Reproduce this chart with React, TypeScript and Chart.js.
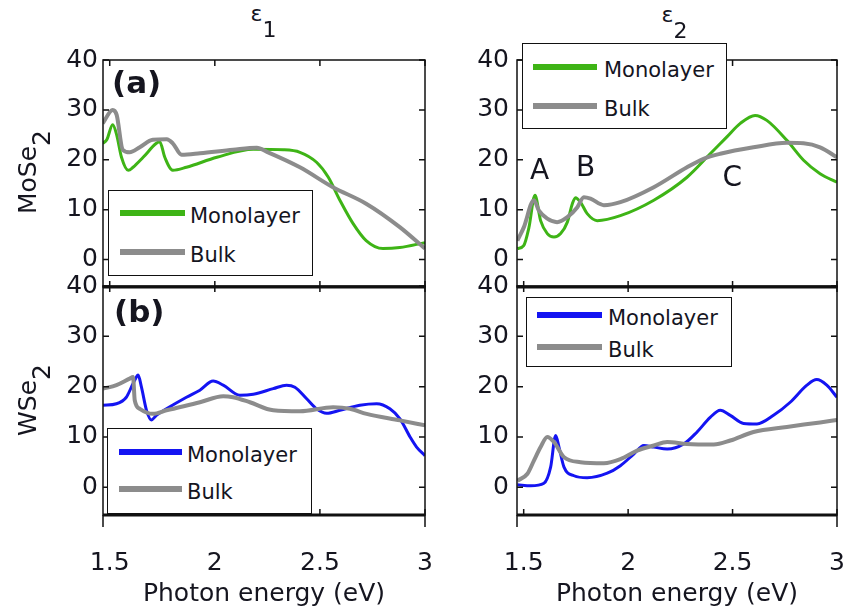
import React, { useEffect, useRef } from "react";
import { Chart, registerables } from "chart.js";

Chart.register(...registerables);

const FONT = '"DejaVu Sans", "Liberation Sans", sans-serif';
const INK = "#15151f";
const GREEN = "#3eb416";
const BLUE = "#1414f2";
const GRAY = "#8c8c8c";

// Shared axes
const xTicks = [1.5, 2, 2.5, 3];
const yTicks = [0, 10, 20, 30, 40];
const xMin = 1.468;
const xMax = 3.0;
const yMin = -5.5;
const yMax = 40;

// MoSe2, epsilon_1
const moEps1MonoE = [1.467, 1.486, 1.514, 1.533, 1.556, 1.588, 1.611, 1.659, 1.722, 1.738, 1.762, 1.8, 1.865, 2.01, 2.183, 2.325, 2.405, 2.484, 2.54, 2.595, 2.658, 2.72, 2.8, 2.88, 3.0];
const moEps1MonoV = [23.3, 24, 27, 25, 20.5, 17.9, 18.5, 20.5, 23.3, 23.6, 20.5, 17.9, 18.5, 20.5, 22.1, 22, 21.5, 19.5, 16.5, 11.9, 7.2, 3.8, 2.2, 2.4, 3.4];
const moEps1BulkE = [1.467, 1.514, 1.533, 1.562, 1.595, 1.643, 1.705, 1.771, 1.8, 1.842, 1.93, 2.087, 2.2, 2.248, 2.405, 2.562, 2.72, 2.88, 3.0];
const moEps1BulkV = [27.3, 30, 29, 22, 21.5, 22.5, 24, 24.1, 23.3, 21, 21.3, 22, 22.4, 21.6, 18.5, 14.5, 11.2, 6.5, 2.2];

// MoSe2, epsilon_2
const moEps2MonoE = [1.47, 1.5, 1.525, 1.554, 1.581, 1.613, 1.645, 1.677, 1.709, 1.733, 1.748, 1.772, 1.804, 1.852, 1.963, 2.123, 2.282, 2.393, 2.473, 2.537, 2.608, 2.664, 2.76, 2.84, 2.919, 3.0];
const moEps2MonoV = [2.2, 2.8, 6.4, 12.9, 7.8, 5.2, 4.5, 5.2, 7.5, 11.2, 12.4, 11.5, 9.2, 7.8, 8.8, 11.9, 16.5, 21.2, 24.6, 27.3, 28.9, 27.9, 23.9, 19.9, 17.2, 15.5];
const moEps2BulkE = [1.47, 1.5, 1.549, 1.573, 1.613, 1.66, 1.709, 1.757, 1.788, 1.82, 1.884, 1.963, 2.123, 2.282, 2.361, 2.441, 2.6, 2.76, 2.84, 2.919, 3.0];
const moEps2BulkV = [3.8, 6.4, 11.9, 9.8, 8.2, 7.5, 8.5, 10.5, 12.5, 12.2, 10.9, 11.5, 14.5, 18.5, 20.2, 21.2, 22.5, 23.4, 23.3, 22.5, 20.5];

// WSe2, epsilon_1
const wEps1MonoE = [1.468, 1.532, 1.579, 1.603, 1.619, 1.635, 1.651, 1.675, 1.698, 1.722, 1.77, 1.865, 1.929, 1.992, 2.04, 2.119, 2.183, 2.278, 2.341, 2.381, 2.437, 2.484, 2.532, 2.595, 2.69, 2.77, 2.833, 2.881, 2.929, 2.96, 3.0];
const wEps1MonoV = [16.3, 16.6, 17.9, 19.9, 21.3, 22.3, 19.9, 15.3, 13.4, 14.3, 15.6, 17.9, 19.3, 21.1, 20.3, 18.3, 18.5, 19.6, 20.3, 19.9, 17.6, 15.6, 14.7, 15.3, 16.3, 16.6, 15.6, 13.6, 10.0, 8.0, 6.3];
const wEps1BulkE = [1.468, 1.532, 1.595, 1.611, 1.619, 1.643, 1.706, 1.77, 1.929, 2.04, 2.087, 2.167, 2.278, 2.405, 2.563, 2.643, 2.722, 2.881, 3.0];
const wEps1BulkV = [19.6, 20.3, 21.6, 21.9, 17.3, 15.6, 14.6, 15.3, 16.9, 18.1, 17.9, 16.9, 15.3, 15.1, 15.9, 15.6, 14.6, 13.3, 12.3];

// WSe2, epsilon_2
const wEps2MonoE = [1.47, 1.534, 1.597, 1.629, 1.653, 1.669, 1.693, 1.741, 1.804, 1.9, 1.963, 2.027, 2.075, 2.123, 2.187, 2.266, 2.33, 2.393, 2.441, 2.489, 2.553, 2.617, 2.696, 2.776, 2.856, 2.903, 2.951, 3.0];
const wEps2MonoV = [0.5, 0.3, 0.8, 4.0, 10.3, 8.0, 4.0, 2.3, 1.9, 2.8, 4.3, 6.6, 8.3, 8.0, 7.6, 8.6, 11.0, 13.9, 15.3, 14.3, 12.7, 12.6, 14.3, 16.9, 20.3, 21.4, 20.3, 17.9];
const wEps2BulkE = [1.47, 1.518, 1.549, 1.581, 1.613, 1.645, 1.693, 1.772, 1.884, 1.963, 2.043, 2.123, 2.187, 2.282, 2.41, 2.489, 2.6, 2.76, 2.919, 3.0];
const wEps2BulkV = [1.3, 2.7, 5.3, 8.0, 10.0, 9.0, 6.0, 5.0, 4.8, 5.6, 7.3, 8.3, 9.0, 8.6, 8.5, 9.3, 11.0, 12.0, 12.9, 13.4];

// Peak markers on the MoSe2 epsilon_2 panel
const peakLabels = ["A", "B", "C"];
const peakE = [1.576, 1.796, 2.499];
const peakV = [17.7, 18.3, 16.3];

type Series = { label: string; color: string; width: number; e: number[]; v: number[] };
type Note = { text: string; x: number; y: number };

const mono = (color: string, e: number[], v: number[]): Series => ({ label: "Monolayer", color, width: 3, e, v });
const bulk = (e: number[], v: number[]): Series => ({ label: "Bulk", color: GRAY, width: 4, e, v });

// Box frame with inward ticks on all four sides, plus text notes in data space
const framePlugin = {
  id: "frame",
  afterDatasetsDraw(chart: any, _args: any, opts: any) {
    const { ctx, chartArea, scales } = chart;
    const { left, right, top, bottom } = chartArea;
    const xs = scales.x;
    const ys = scales.y;
    const tick = 6;
    ctx.save();
    ctx.strokeStyle = "#111";
    ctx.lineWidth = 1.5;
    ctx.strokeRect(left, top, right - left, bottom - top);
    ctx.lineWidth = 3;
    ctx.beginPath();
    ctx.moveTo(left, bottom);
    ctx.lineTo(right, bottom);
    ctx.stroke();
    ctx.lineWidth = 1.5;
    ctx.beginPath();
    for (const v of xTicks) {
      const px = xs.getPixelForValue(v);
      ctx.moveTo(px, bottom);
      ctx.lineTo(px, bottom - tick);
      ctx.moveTo(px, top);
      ctx.lineTo(px, top + tick);
    }
    for (const v of yTicks) {
      const py = ys.getPixelForValue(v);
      ctx.moveTo(left, py);
      ctx.lineTo(left + tick, py);
      ctx.moveTo(right, py);
      ctx.lineTo(right - tick, py);
    }
    if (opts && opts.extend) {
      ctx.moveTo(left, bottom);
      ctx.lineTo(left, bottom + opts.extend);
      ctx.moveTo(right, bottom);
      ctx.lineTo(right, bottom + opts.extend);
    }
    ctx.stroke();
    if (opts && opts.notes) {
      ctx.fillStyle = INK;
      ctx.font = `28px ${FONT}`;
      ctx.textAlign = "center";
      ctx.textBaseline = "middle";
      for (const n of opts.notes as Note[]) {
        ctx.fillText(n.text, xs.getPixelForValue(n.x), ys.getPixelForValue(n.y));
      }
    }
    ctx.restore();
  },
};

type PanelProps = {
  box: [number, number, number, number];
  yAxisWidth: number;
  padTop: number;
  padRight: number;
  padBottom: number;
  xAxisHeight: number;
  showX: boolean;
  yLabelPad: number;
  series: Series[];
  notes?: Note[];
};

function Panel(p: PanelProps) {
  const ref = useRef<HTMLCanvasElement>(null);
  useEffect(() => {
    const tickFont = { family: FONT, size: 25 };
    const chart = new Chart(ref.current as HTMLCanvasElement, {
      type: "line",
      data: {
        datasets: p.series.map((s) => ({
          label: s.label,
          data: s.e.map((x, k) => ({ x, y: s.v[k] })),
          borderColor: s.color,
          borderWidth: s.width,
          pointRadius: 0,
          fill: false,
          cubicInterpolationMode: "monotone" as const,
          order: s.label === "Bulk" ? 0 : 1,
        })),
      },
      options: {
        animation: false,
        responsive: false,
        maintainAspectRatio: false,
        devicePixelRatio: 1,
        events: [],
        layout: { padding: { left: 0, top: p.padTop, right: p.padRight, bottom: p.padBottom } },
        plugins: {
          legend: { display: false },
          tooltip: { enabled: false },
          frame: { extend: p.showX ? 12 : 0, notes: p.notes },
        } as any,
        scales: {
          x: {
            type: "linear",
            min: xMin,
            max: xMax,
            display: p.showX,
            position: "bottom",
            afterBuildTicks: (s: any) => {
              s.ticks = xTicks.map((value) => ({ value }));
            },
            afterFit: (s: any) => {
              s.height = p.xAxisHeight;
              s.paddingLeft = 0;
              s.paddingRight = 0;
            },
            grid: { display: false, drawTicks: false },
            border: { display: false },
            ticks: {
              font: tickFont,
              color: INK,
              padding: 33,
              maxRotation: 0,
              autoSkip: false,
              callback: (v: any) => String(v),
            },
            title: {
              display: true,
              text: "Photon energy (eV)",
              font: { family: FONT, size: 25 },
              color: INK,
              padding: { top: 0, bottom: 3 },
            },
          },
          y: {
            type: "linear",
            min: yMin,
            max: yMax,
            afterBuildTicks: (s: any) => {
              s.ticks = yTicks.map((value) => ({ value }));
            },
            afterFit: (s: any) => {
              s.width = p.yAxisWidth;
              s.paddingTop = 0;
              s.paddingBottom = 0;
            },
            grid: { display: false, drawTicks: false },
            border: { display: false },
            ticks: {
              font: tickFont,
              color: INK,
              padding: p.yLabelPad,
              autoSkip: false,
              callback: (v: any) => String(v),
            },
          },
        },
      } as any,
      plugins: [framePlugin],
    });
    return () => chart.destroy();
  }, []);
  const [l, t, w, h] = p.box;
  return (
    <canvas
      ref={ref}
      width={w}
      height={h}
      style={{ position: "absolute", left: l, top: t, width: w, height: h }}
    />
  );
}

type LegendRow = { label: string; color: string; y: number };
function Legend(props: { box: [number, number, number, number]; rows: LegendRow[]; lineX: [number, number]; textX: number }) {
  const [l, t, w, h] = props.box;
  return (
    <>
      <div
        style={{
          position: "absolute",
          left: l,
          top: t,
          width: w,
          height: h,
          boxSizing: "border-box",
          border: "1.5px solid #111",
          background: "#fff",
        }}
      />
      {props.rows.map((r) => (
        <React.Fragment key={r.label}>
          <div
            style={{
              position: "absolute",
              left: props.lineX[0],
              top: r.y - 3,
              width: props.lineX[1] - props.lineX[0],
              height: 6,
              background: r.color,
            }}
          />
          <div
            style={{
              position: "absolute",
              left: props.textX,
              top: r.y - 7,
              font: `21px/21px ${FONT}`,
              color: INK,
              whiteSpace: "nowrap",
            }}
          >
            {r.label}
          </div>
        </React.Fragment>
      ))}
    </>
  );
}

function Label(props: { left: number; top: number; size: number; sub: string; text: string; shift: number; bold?: boolean }) {
  return (
    <div
      style={{
        position: "absolute",
        left: props.left,
        top: props.top,
        font: `${props.bold ? "bold " : ""}${props.size}px/${props.size}px ${FONT}`,
        color: INK,
        whiteSpace: "nowrap",
      }}
    >
      {props.text}
      {props.sub ? (
        <span style={{ position: "relative", top: props.shift }}>{props.sub}</span>
      ) : null}
    </div>
  );
}

function AxisName(props: { cx: number; cy: number; text: string; sub: string }) {
  return (
    <div
      style={{
        position: "absolute",
        left: props.cx,
        top: props.cy,
        width: "max-content",
        font: `25px/25px ${FONT}`,
        color: INK,
        whiteSpace: "nowrap",
        transform: "translate(-50%, -50%) rotate(-90deg)",
      }}
    >
      {props.text}
      <span style={{ position: "relative", top: 14 }}>{props.sub}</span>
    </div>
  );
}

export default function App() {
  const notes: Note[] = peakLabels.map((text, i) => ({ text, x: peakE[i], y: peakV[i] }));
  return (
    <div
      style={{
        position: "absolute",
        left: 0,
        top: 0,
        width: 845,
        height: 612,
        background: "#fff",
        overflow: "hidden",
      }}
    >
      <Panel
        box={[0, 30, 440, 265]}
        yAxisWidth={103}
        padTop={30}
        padRight={15}
        padBottom={8}
        xAxisHeight={0}
        showX={false}
        yLabelPad={5}
        series={[bulk(moEps1BulkE, moEps1BulkV), mono(GREEN, moEps1MonoE, moEps1MonoV)]}
      />
      <Panel
        box={[430, 30, 415, 265]}
        yAxisWidth={87}
        padTop={30}
        padRight={8}
        padBottom={8}
        xAxisHeight={0}
        showX={false}
        yLabelPad={8}
        series={[bulk(moEps2BulkE, moEps2BulkV), mono(GREEN, moEps2MonoE, moEps2MonoV)]}
        notes={notes}
      />
      <Panel
        box={[0, 256, 440, 356]}
        yAxisWidth={103}
        padTop={30}
        padRight={15}
        padBottom={0}
        xAxisHeight={97}
        showX={true}
        yLabelPad={5}
        series={[bulk(wEps1BulkE, wEps1BulkV), mono(BLUE, wEps1MonoE, wEps1MonoV)]}
      />
      <Panel
        box={[430, 256, 415, 356]}
        yAxisWidth={87}
        padTop={30}
        padRight={8}
        padBottom={0}
        xAxisHeight={97}
        showX={true}
        yLabelPad={8}
        series={[bulk(wEps2BulkE, wEps2BulkV), mono(BLUE, wEps2MonoE, wEps2MonoV)]}
      />

      <Legend
        box={[108, 190, 205, 86]}
        rows={[
          { label: "Monolayer", color: GREEN, y: 213 },
          { label: "Bulk", color: GRAY, y: 252 },
        ]}
        lineX={[120, 185]}
        textX={190}
      />
      <Legend
        box={[522, 43, 205, 86]}
        rows={[
          { label: "Monolayer", color: GREEN, y: 67 },
          { label: "Bulk", color: GRAY, y: 106 },
        ]}
        lineX={[533, 597]}
        textX={604}
      />
      <Legend
        box={[107, 428, 205, 86]}
        rows={[
          { label: "Monolayer", color: BLUE, y: 452 },
          { label: "Bulk", color: GRAY, y: 489 },
        ]}
        lineX={[119, 182]}
        textX={187}
      />
      <Legend
        box={[526, 297, 206, 70]}
        rows={[
          { label: "Monolayer", color: BLUE, y: 315 },
          { label: "Bulk", color: GRAY, y: 347 },
        ]}
        lineX={[537, 602]}
        textX={608}
      />

      <Label left={250.5} top={2.5} size={22} text="ε" sub="1" shift={16} />
      <Label left={661.5} top={3.5} size={22} text="ε" sub="2" shift={16} />
      <Label left={112} top={67} size={31} text="(a)" sub="" shift={0} bold />
      <Label left={114} top={296} size={31} text="(b)" sub="" shift={0} bold />

      <AxisName cx={26.5} cy={171.5} text="MoSe" sub="2" />
      <AxisName cx={26.5} cy={400} text="WSe" sub="2" />
    </div>
  );
}
